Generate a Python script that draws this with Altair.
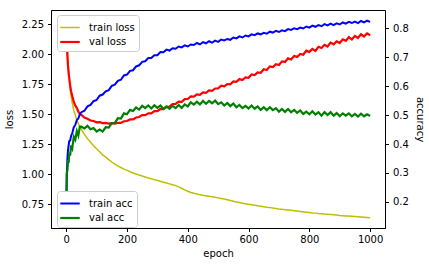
import altair as alt
import pandas as pd

# epochs sampled (early part denser)
epochs = [0, 2, 4, 6, 8, 10, 13, 16, 20, 25, 30, 35, 40, 45] + list(range(50, 1001, 10))

train_loss = [
    2.29, 2.16, 2.04, 1.94, 1.86, 1.79, 1.71, 1.65, 1.59, 1.53, 1.49, 1.45, 1.42, 1.39,
    1.37, 1.33, 1.295, 1.265, 1.235, 1.21, 1.185, 1.16, 1.14, 1.12,
    1.10, 1.083, 1.068, 1.054, 1.041, 1.03, 1.019, 1.009, 1.0, 0.991,
    0.983, 0.975, 0.967, 0.96, 0.953, 0.946, 0.939, 0.932, 0.925, 0.918,
    0.911, 0.903, 0.893, 0.881, 0.868, 0.856, 0.846, 0.839, 0.833, 0.828,
    0.823, 0.819, 0.814, 0.81, 0.806, 0.801, 0.796, 0.791, 0.785, 0.779,
    0.773, 0.767, 0.762, 0.757, 0.752, 0.747, 0.743, 0.739, 0.735, 0.731,
    0.727, 0.723, 0.72, 0.716, 0.713, 0.709, 0.706, 0.703, 0.70, 0.697,
    0.694, 0.691, 0.688, 0.685, 0.682, 0.679, 0.676, 0.674, 0.671, 0.669,
    0.666, 0.664, 0.662, 0.66, 0.658, 0.655, 0.653, 0.651, 0.649, 0.647,
    0.645, 0.643, 0.641, 0.639, 0.637, 0.635,
]

val_loss = [
    2.30, 2.10, 1.98, 1.90, 1.84, 1.80, 1.74, 1.69, 1.65, 1.60, 1.57, 1.55, 1.52, 1.50,
    1.492, 1.470, 1.461, 1.446, 1.442, 1.431, 1.432, 1.424, 1.426, 1.420,
    1.424, 1.419, 1.427, 1.426, 1.44, 1.442, 1.455, 1.455, 1.471, 1.475,
    1.491, 1.491, 1.506, 1.505, 1.524, 1.524, 1.542, 1.541, 1.558, 1.561,
    1.582, 1.584, 1.603, 1.602, 1.624, 1.625, 1.647, 1.645, 1.663, 1.66,
    1.681, 1.677, 1.697, 1.693, 1.713, 1.714, 1.736, 1.73, 1.75, 1.748,
    1.772, 1.768, 1.791, 1.783, 1.806, 1.802, 1.83, 1.825, 1.847, 1.844,
    1.873, 1.867, 1.897, 1.892, 1.915, 1.909, 1.939, 1.934, 1.964, 1.955,
    1.984, 1.976, 2.001, 1.994, 2.028, 2.018, 2.043, 2.026, 2.06, 2.051,
    2.077, 2.063, 2.095, 2.081, 2.106, 2.092, 2.123, 2.11, 2.141, 2.121,
    2.151, 2.134, 2.164, 2.146, 2.172, 2.157,
]

train_acc = [
    0.15, 0.29, 0.35, 0.38, 0.395, 0.41, 0.412, 0.428, 0.438, 0.458, 0.466, 0.483, 0.488, 0.503,
    0.51, 0.515, 0.53, 0.535, 0.548, 0.552, 0.567, 0.571, 0.582, 0.586,
    0.601, 0.605, 0.618, 0.622, 0.637, 0.64, 0.653, 0.655, 0.668, 0.672,
    0.684, 0.686, 0.697, 0.697, 0.707, 0.707, 0.718, 0.717, 0.726, 0.723,
    0.731, 0.729, 0.737, 0.734, 0.741, 0.737, 0.744, 0.742, 0.749, 0.744,
    0.752, 0.748, 0.755, 0.75, 0.757, 0.753, 0.761, 0.758, 0.763, 0.76,
    0.768, 0.765, 0.772, 0.768, 0.775, 0.772, 0.779, 0.776, 0.782, 0.779,
    0.784, 0.781, 0.788, 0.785, 0.791, 0.787, 0.793, 0.79, 0.797, 0.794,
    0.80, 0.797, 0.802, 0.799, 0.806, 0.802, 0.809, 0.805, 0.811, 0.807,
    0.814, 0.81, 0.816, 0.811, 0.817, 0.813, 0.82, 0.816, 0.822, 0.818,
    0.823, 0.818, 0.825, 0.82, 0.826, 0.822,
]

val_acc = [
    0.17, 0.30, 0.31, 0.345, 0.335, 0.37, 0.36, 0.395, 0.385, 0.425, 0.415, 0.445, 0.43, 0.46,
    0.46, 0.454, 0.463, 0.451, 0.455, 0.443, 0.45, 0.443, 0.458, 0.457,
    0.472, 0.472, 0.489, 0.488, 0.506, 0.503, 0.518, 0.514, 0.526, 0.519,
    0.532, 0.524, 0.533, 0.523, 0.534, 0.525, 0.533, 0.522, 0.53, 0.522,
    0.532, 0.524, 0.535, 0.525, 0.537, 0.53, 0.544, 0.536, 0.546, 0.537,
    0.549, 0.539, 0.549, 0.541, 0.55, 0.538, 0.544, 0.533, 0.542, 0.531,
    0.54, 0.527, 0.535, 0.524, 0.532, 0.523, 0.533, 0.522, 0.53, 0.518,
    0.527, 0.517, 0.527, 0.517, 0.524, 0.512, 0.521, 0.511, 0.521, 0.51,
    0.518, 0.508, 0.516, 0.504, 0.512, 0.503, 0.513, 0.502, 0.51, 0.498,
    0.51, 0.50, 0.51, 0.498, 0.507, 0.496, 0.506, 0.498, 0.506, 0.496,
    0.504, 0.495, 0.505, 0.496, 0.503, 0.497,
]

loss_names = ["train loss", "val loss"]
acc_names = ["train acc", "val acc"]
loss_colors = ["#bfbf00", "#ff0000"]
acc_colors = ["#0000ff", "#008000"]
x_ticks = [0, 200, 400, 600, 800, 1000]
loss_ticks = [0.75, 1.00, 1.25, 1.50, 1.75, 2.00, 2.25]
acc_ticks = [0.2, 0.3, 0.4, 0.5, 0.6, 0.7, 0.8]

n = len(epochs)
df_loss = pd.DataFrame({
    "epoch": epochs * 2,
    "value": train_loss[:n] + val_loss[:n],
    "series": [loss_names[0]] * n + [loss_names[1]] * n,
})
df_acc = pd.DataFrame({
    "epoch": epochs * 2,
    "value": train_acc[:n] + val_acc[:n],
    "series": [acc_names[0]] * n + [acc_names[1]] * n,
})

FONT = "DejaVu Sans"

x_enc = alt.X(
    "epoch:Q",
    scale=alt.Scale(domain=[-50, 1049], nice=False, zero=False),
    axis=alt.Axis(values=x_ticks, format="d", title="epoch", labelPadding=3,
                  titlePadding=4, grid=False),
)


def legend(y):
    return alt.Legend(
        orient="none", legendX=6, legendY=y, title=None,
        symbolType="M-1.3,0H1.3", symbolSize=225, symbolStrokeWidth=2,
        labelFontSize=10, labelFont=FONT, labelColor="black", labelOffset=10,
        padding=4, rowPadding=0, fillColor="white", strokeColor="#cccccc",
        cornerRadius=3,
    )


loss_chart = alt.Chart(df_loss).mark_line(clip=True).encode(
    x=x_enc,
    y=alt.Y(
        "value:Q",
        scale=alt.Scale(domain=[0.55, 2.367], nice=False, zero=False),
        axis=alt.Axis(orient="left", title="loss", values=loss_ticks, format=".2f",
                      labelPadding=4, titlePadding=7, grid=False),
    ),
    color=alt.Color("series:N", scale=alt.Scale(domain=loss_names, range=loss_colors),
                    legend=legend(5)),
    strokeWidth=alt.StrokeWidth("series:N",
                                scale=alt.Scale(domain=loss_names, range=[1.5, 2.2]),
                                legend=None),
)

acc_chart = alt.Chart(df_acc).mark_line(clip=True).encode(
    x=x_enc,
    y=alt.Y(
        "value:Q",
        scale=alt.Scale(domain=[0.11, 0.863], nice=False, zero=False),
        axis=alt.Axis(orient="right", title="accuracy", values=acc_ticks, format=".1f",
                      labelPadding=4, titlePadding=6, grid=False),
    ),
    color=alt.Color("series:N", scale=alt.Scale(domain=acc_names, range=acc_colors),
                    legend=legend(181)),
    strokeWidth=alt.StrokeWidth("series:N",
                                scale=alt.Scale(domain=acc_names, range=[2.0, 2.2]),
                                legend=None),
)

chart = (
    alt.layer(loss_chart, acc_chart)
    .resolve_scale(y="independent", color="independent", strokeWidth="independent")
    .properties(
        width=334, height=218,
        autosize=alt.AutoSizeParams(type="none"),
        padding={"left": 51, "top": 10, "right": 44, "bottom": 38},
        background="white",
    )
    .configure(font=FONT)
    .configure_axis(
        labelFont=FONT, labelFontSize=10, labelColor="black",
        titleFont=FONT, titleFontSize=10, titleFontWeight="normal", titleColor="black",
        tickColor="black", tickSize=3.5, domainColor="black", grid=False,
    )
    .configure_view(stroke="black", strokeWidth=1)
)

chart.save("out.html", embed_options={"renderer": "svg", "actions": False})
